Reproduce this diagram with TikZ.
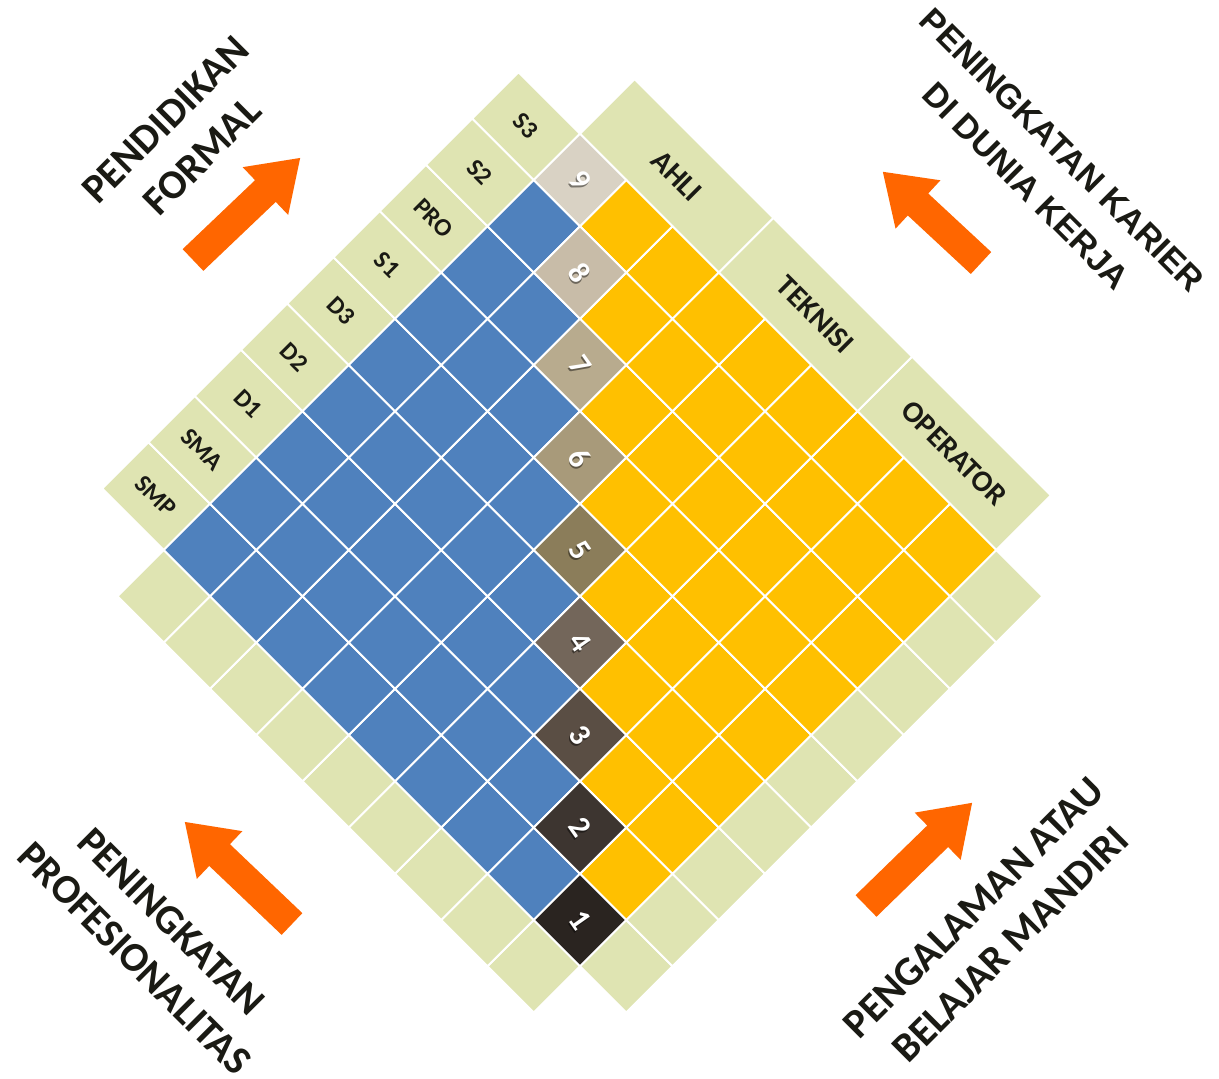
\documentclass[tikz,border=0pt]{standalone}
\usepackage{fontspec}
\setmainfont{Carlito}
\newfontfamily\arialfont{Liberation Sans}
\definecolor{kblue}{HTML}{4F81BD}
\definecolor{kyellow}{HTML}{FFC000}
\definecolor{kgreen}{HTML}{DFE4B2}
\definecolor{korange}{HTML}{FF6600}
\definecolor{ktext}{HTML}{1A1A14}
\definecolor{lv1}{HTML}{2A2420}
\definecolor{lv2}{HTML}{3D3530}
\definecolor{lv3}{HTML}{5A4E44}
\definecolor{lv4}{HTML}{73665A}
\definecolor{lv5}{HTML}{8B7D5A}
\definecolor{lv6}{HTML}{A89A7A}
\definecolor{lv7}{HTML}{B8AB8E}
\definecolor{lv8}{HTML}{C8BCA8}
\definecolor{lv9}{HTML}{D9D2C4}
\newcommand\orangearrow[3]{%
  \begin{scope}[shift={(#1)}, rotate=#2, x=1pt, y=1pt]
    \fill[korange] (0,-15) -- ({#3-48},-15) -- ({#3-48},-33) -- (#3,0)
      -- ({#3-48},33) -- ({#3-48},15) -- (0,15) -- cycle;
  \end{scope}}
\begin{document}
\begin{tikzpicture}[x=1pt,y=-1pt,
  cellbox/.style={fill=#1, draw=white, line width=1.8pt, line join=miter},
  lbl/.style={font=\bfseries\fontsize{25}{27}\selectfont, text=ktext, rotate=-45, inner sep=0pt},
  biglbl/.style={font=\bfseries\fontsize{30}{32}\selectfont, text=ktext, rotate=-45, inner sep=0pt},
  digit/.style={font=\bfseries\fontsize{31}{33}\selectfont, text=white, rotate=-55, inner sep=0pt},
  digitshadow/.style={font=\bfseries\fontsize{31}{33}\selectfont, text=black, opacity=0.45, rotate=-55, inner sep=0pt},
  corner/.style={font=\bfseries\fontsize{41}{52}\selectfont, text=ktext, align=center, inner sep=0pt},
  cornerarial/.style={font=\arialfont\bfseries\fontsize{34}{51}\selectfont, text=ktext, align=center, inner sep=0pt}]
\useasboundingbox (0,0) rectangle (1219,1079);
\fill[white] (0,0) rectangle (1219,1079);

\begin{scope}[shift={(580,920)}, x={(46.25pt,46.25pt)}, y={(-46.25pt,46.25pt)}]
  % bottom-left strip
  \foreach \q in {0,...,8}{
    \draw[cellbox=kgreen] (-1.5,\q-.5) -- (-0.5,\q-.5) -- (-0.5,\q+.5) -- (-1.5,\q+.5) -- cycle;
  }
  % bottom-right strip
  \foreach \p in {0,...,8}{
    \draw[cellbox=kgreen] (\p-.5,-1.5) -- (\p+.5,-1.5) -- (\p+.5,-0.5) -- (\p-.5,-0.5) -- cycle;
  }
  % education labels strip
  \foreach \lab [count=\i from 0] in {SMP,SMA,D1,D2,D3,S1,PRO,S2,S3}{
    \draw[cellbox=kgreen] (\i-.5,8.5) -- (\i+.5,8.5) -- (\i+.5,9.83) -- (\i-.5,9.83) -- cycle;
    \node[lbl] (edu\i) at (\i,9.17) {\lab};
  }
  % job labels strip
  \foreach \lab [count=\i from 0] in {OPERATOR,TEKNISI,AHLI}{
    \pgfmathsetmacro\qa{3*\i-0.5}
    \pgfmathsetmacro\qb{3*\i+2.5}
    \pgfmathsetmacro\qm{3*\i+1}
    \draw[cellbox=kgreen] (8.5,\qa) -- (9.68,\qa) -- (9.68,\qb) -- (8.5,\qb) -- cycle;
    \node[biglbl] (job\i) at (9.09,\qm) {\lab};
  }
  % blue cells
  \foreach \p in {0,...,7}{
    \pgfmathtruncatemacro\qs{\p+1}
    \foreach \q in {\qs,...,8}{
      \draw[cellbox=kblue] (\p-.5,\q-.5) -- (\p+.5,\q-.5) -- (\p+.5,\q+.5) -- (\p-.5,\q+.5) -- cycle;
    }
  }
  % yellow cells
  \foreach \q in {0,...,7}{
    \pgfmathtruncatemacro\ps{\q+1}
    \foreach \p in {\ps,...,8}{
      \draw[cellbox=kyellow] (\p-.5,\q-.5) -- (\p+.5,\q-.5) -- (\p+.5,\q+.5) -- (\p-.5,\q+.5) -- cycle;
    }
  }
  % level cells
  \foreach \k in {1,...,9}{
    \pgfmathtruncatemacro\m{\k-1}
    \draw[cellbox=lv\k] (\m-.5,\m-.5) -- (\m+.5,\m-.5) -- (\m+.5,\m+.5) -- (\m-.5,\m+.5) -- cycle;
    \node[digitshadow, xshift=1.5pt, yshift=-1.5pt] (lvs\k) at (\m,\m) {\k};
    \node[digit] (lv\k) at (\m,\m) {\k};
  }
\end{scope}

% corner captions
\node[corner, rotate=45] (pf) at (184,138) {PENDIDIKAN\\FORMAL};
\node[cornerarial, rotate=-45] (pk) at (1044,168) {PENINGKATAN KARIER\\DI DUNIA KERJA};
\node[corner, rotate=-45] (pp) at (153,940) {PENINGKATAN\\PROFESIONALITAS};
\node[corner, rotate=45] (pb) at (992,926) {PENGALAMAN ATAU\\BELAJAR MANDIRI};

% orange arrows
\coordinate (tlT) at (193,260);
\coordinate (trT) at (981,263);
\coordinate (blT) at (292,924);
\coordinate (brT) at (866,906);
\orangearrow{tlT}{43.6}{148}
\orangearrow{trT}{137.1}{134}
\orangearrow{blT}{136.4}{148}
\orangearrow{brT}{44.2}{148}
\end{tikzpicture}
\end{document}
